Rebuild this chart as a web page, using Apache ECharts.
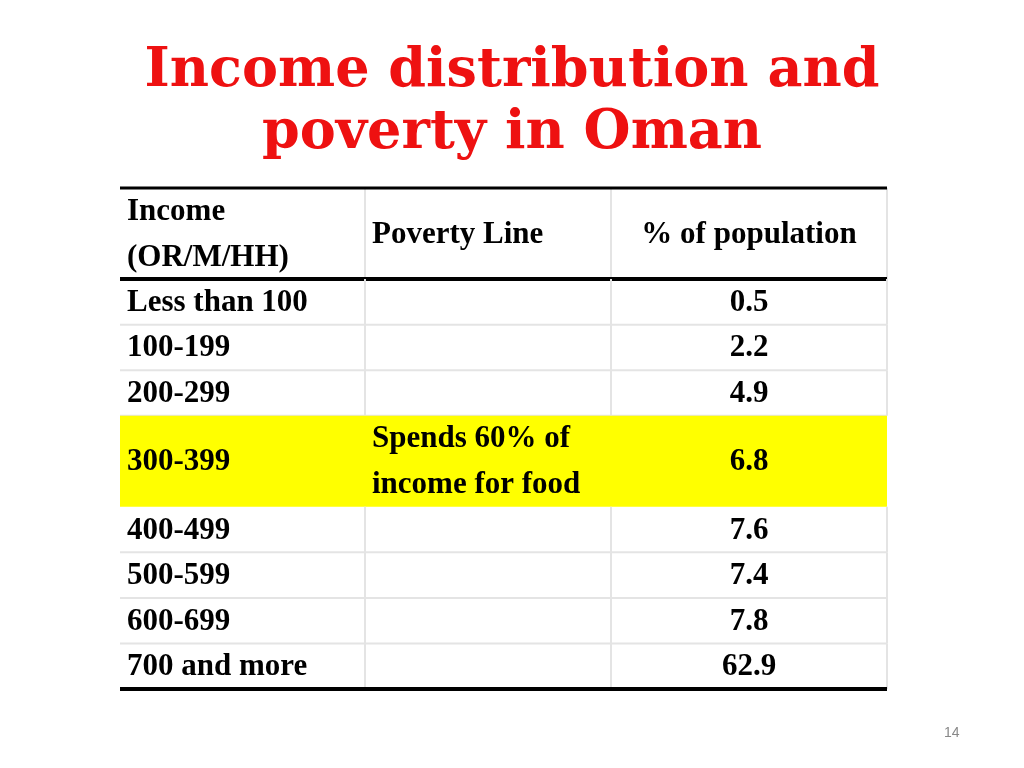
<!DOCTYPE html>
<html><head><meta charset="utf-8">
<script src="https://cdn.jsdelivr.net/npm/echarts@6/dist/echarts.min.js"></script>
<style>html,body{margin:0;background:#fff}#c{width:1024px;height:768px}</style>
</head><body><div id="c"></div>
<script>
var titleText = 'Income distribution and\npoverty in Oman';
var headers = ['Income\n(OR/M/HH)', 'Poverty Line', '% of population'];
var incomeBands = ['Less than 100', '100-199', '200-299', '300-399', '400-499', '500-599', '600-699', '700 and more'];
var povertyNotes = ['', '', '', 'Spends 60% of\nincome for food', '', '', '', ''];
var populationShare = ['0.5', '2.2', '4.9', '6.8', '7.6', '7.4', '7.8', '62.9'];
var rowSpans = [1, 1, 1, 2, 1, 1, 1, 1];
var highlightRow = 3;
var colEdges = [0, 245, 491, 767];

// build rows: [index, start unit, span]
var rows = [[-1, 0, 2]];
var u = 2;
for (var i = 0; i < incomeBands.length; i++) { rows.push([i, u, rowSpans[i]]); u += rowSpans[i]; }
var totalUnits = u;

var font = '"Liberation Serif", "DejaVu Serif", serif';

function renderItem(params, api) {
  var idx = api.value(0), start = api.value(1), span = api.value(2);
  var p0 = api.coord([colEdges[0], start]);
  var p1 = api.coord([colEdges[3], start + span]);
  var y0 = p0[1], y1 = p1[1], h = y1 - y0, cy = (y0 + y1) / 2;
  var xs = colEdges.map(function (c) { return api.coord([c, 0])[0]; });
  var header = idx < 0;
  var texts = header ? headers : [incomeBands[idx], povertyNotes[idx], populationShare[idx]];
  var kids = [];
  if (idx === highlightRow) {
    kids.push({ type: 'rect', shape: { x: xs[0], y: y0, width: xs[3] - xs[0], height: h }, style: { fill: '#ffff00' } });
  } else {
    kids.push({ type: 'line', shape: { x1: xs[0], y1: y1, x2: xs[3], y2: y1 }, style: { stroke: '#e4e4e4', lineWidth: 2 } });
    [1, 2, 3].forEach(function (k) {
      kids.push({ type: 'line', shape: { x1: xs[k], y1: y0, x2: xs[k], y2: y1 }, style: { stroke: '#e4e4e4', lineWidth: 2 } });
    });
  }
  var tx = [xs[0] + 7, xs[1] + 7, (xs[2] + xs[3]) / 2];
  var al = ['left', 'left', 'center'];
  for (var k = 0; k < 3; k++) {
    kids.push({ type: 'text', style: { text: texts[k], x: tx[k], y: cy + 1, align: al[k], verticalAlign: 'middle',
      font: 'bold 31px ' + font, fill: '#000', lineHeight: 46 } });
  }
  if (header) {
    kids.push({ type: 'line', shape: { x1: xs[0], y1: y0, x2: xs[3], y2: y0 }, style: { stroke: '#000', lineWidth: 3 } });
    kids.push({ type: 'line', shape: { x1: xs[0], y1: y1, x2: xs[3], y2: y1 }, style: { stroke: '#000', lineWidth: 4 } });
  }
  if (idx === incomeBands.length - 1) {
    kids.push({ type: 'line', shape: { x1: xs[0], y1: y1, x2: xs[3], y2: y1 }, style: { stroke: '#000', lineWidth: 4 } });
  }
  return { type: 'group', children: kids };
}

var chart = echarts.init(document.getElementById('c'));
chart.setOption({
  backgroundColor: '#fff',
  title: { text: titleText, left: 'center', top: 36,
    textStyle: { color: '#ee1111', fontSize: 54, fontWeight: 'bold', fontFamily: '"DejaVu Serif", serif', lineHeight: 62 } },
  graphic: [{ type: 'text', left: 944, top: 726, style: { text: '14', font: '14px "Liberation Sans", sans-serif', fill: '#888' } }],
  grid: { left: 120, right: 137, top: 188, bottom: 768 - 689 },
  xAxis: { type: 'value', min: 0, max: colEdges[3], show: false },
  yAxis: { type: 'value', min: 0, max: totalUnits, inverse: true, show: false },
  series: [{ type: 'custom', renderItem: renderItem, data: rows, animation: false }]
});
</script></body></html>
